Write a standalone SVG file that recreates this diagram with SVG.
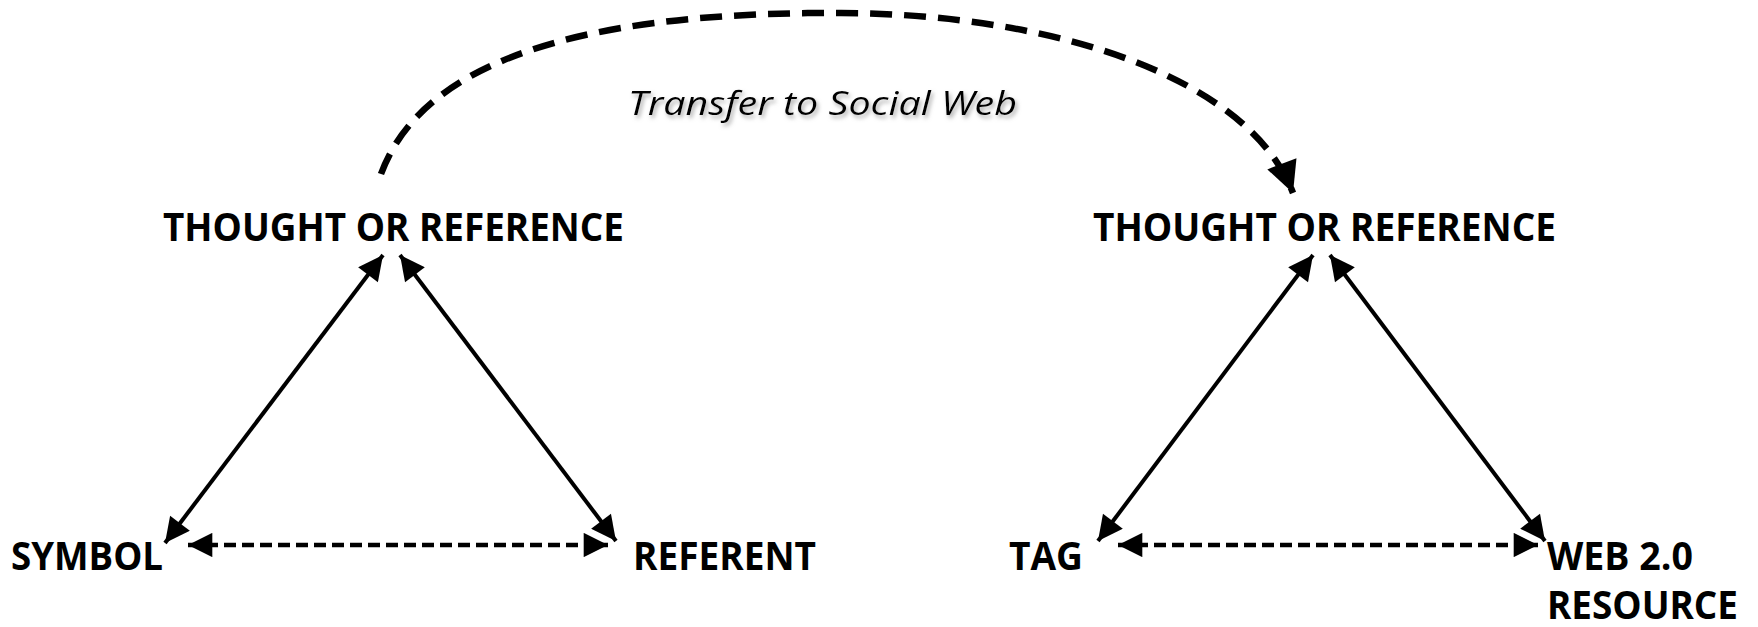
<svg xmlns="http://www.w3.org/2000/svg" width="1758" height="627" viewBox="0 0 1758 627">
<style>
.lbl{font-family:"Open Sans","Liberation Sans",sans-serif;font-weight:bold;font-size:39px;fill:#000}
.ttl{font-family:"Open Sans","Liberation Sans",sans-serif;font-style:italic;font-size:33px;fill:#000}
.solid{stroke:#000;stroke-width:4;fill:none}
.dash{stroke:#000;stroke-width:4.5;fill:none;stroke-dasharray:12 6}
.arc{stroke:#000;stroke-width:6.5;fill:none;stroke-dasharray:22 12}
</style>
<defs>
<marker id="ah" viewBox="0 0 10 10" refX="10" refY="5" markerWidth="7.4" markerHeight="6.2" markerUnits="strokeWidth" orient="auto-start-reverse">
<path d="M0,0 L10,5 L0,10 Z" fill="#000"/>
</marker>
<marker id="ahd" viewBox="0 0 10 10" refX="10" refY="5" markerWidth="5.6" markerHeight="5.4" markerUnits="strokeWidth" orient="auto-start-reverse">
<path d="M0,0 L10,5 L0,10 Z" fill="#000"/>
</marker>
<marker id="aha" viewBox="0 0 10 10" refX="10" refY="5" markerWidth="5.6" markerHeight="4.8" markerUnits="strokeWidth" orient="auto">
<path d="M0,0 L10,5 L0,10 Z" fill="#000"/>
</marker>
<filter id="sh" x="-10%" y="-30%" width="120%" height="160%">
<feDropShadow dx="2" dy="3" stdDeviation="2" flood-color="#888" flood-opacity="0.7"/>
</filter>
</defs>
<rect width="1758" height="627" fill="#fff"/>
<g id="connectors">
<path class="arc" d="M381,174 C430,40 640,12 841,13 C1060,14 1250,80 1293,193" marker-end="url(#aha)"/>
<line class="solid" x1="165" y1="543" x2="383" y2="255" marker-start="url(#ah)" marker-end="url(#ah)"/>
<line class="solid" x1="400" y1="255" x2="616" y2="541" marker-start="url(#ah)" marker-end="url(#ah)"/>
<line class="dash" x1="188" y1="545" x2="608" y2="545" marker-start="url(#ahd)" marker-end="url(#ahd)"/>
<line class="solid" x1="1098" y1="541" x2="1313" y2="255" marker-start="url(#ah)" marker-end="url(#ah)"/>
<line class="solid" x1="1330" y1="255" x2="1545" y2="541" marker-start="url(#ah)" marker-end="url(#ah)"/>
<line class="dash" x1="1118" y1="545" x2="1538" y2="545" marker-start="url(#ahd)" marker-end="url(#ahd)"/>
</g>
<g id="label-transfer"><text class="ttl" x="628" y="115" textLength="389" lengthAdjust="spacingAndGlyphs" filter="url(#sh)">Transfer to Social Web</text></g>
<g id="node-thought-left"><text class="lbl" x="163" y="241" textLength="461" lengthAdjust="spacingAndGlyphs">THOUGHT OR REFERENCE</text></g>
<g id="node-symbol"><text class="lbl" x="11" y="570" textLength="152" lengthAdjust="spacingAndGlyphs">SYMBOL</text></g>
<g id="node-referent"><text class="lbl" x="633" y="570" textLength="183" lengthAdjust="spacingAndGlyphs">REFERENT</text></g>
<g id="node-thought-right"><text class="lbl" x="1093" y="241" textLength="463" lengthAdjust="spacingAndGlyphs">THOUGHT OR REFERENCE</text></g>
<g id="node-tag"><text class="lbl" x="1009" y="570" textLength="74" lengthAdjust="spacingAndGlyphs">TAG</text></g>
<g id="node-web"><text class="lbl" x="1547" y="570" textLength="146" lengthAdjust="spacingAndGlyphs">WEB 2.0</text><text class="lbl" x="1547" y="619" textLength="191" lengthAdjust="spacingAndGlyphs">RESOURCE</text></g>
</svg>
